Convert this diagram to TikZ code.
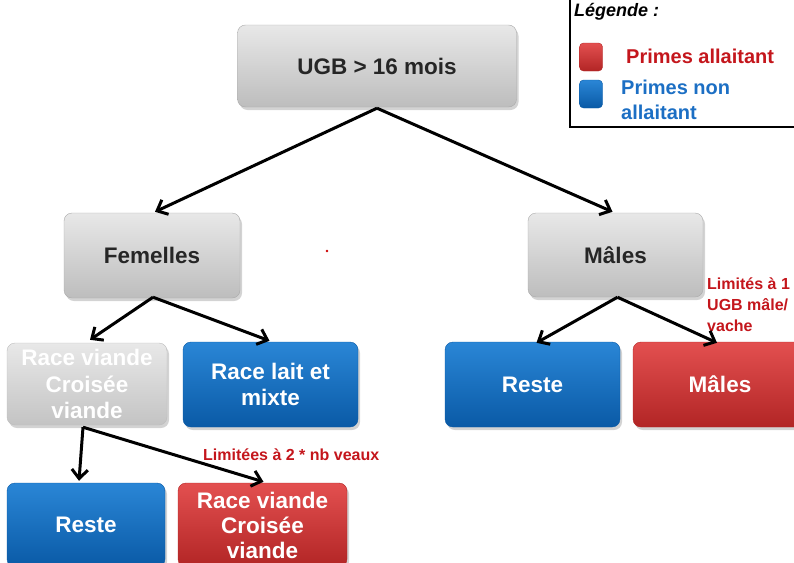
\documentclass[tikz,border=0pt]{standalone}
\usepackage{fontspec}
\setmainfont{Liberation Sans}
\usetikzlibrary{arrows.meta,shadows}
\definecolor{gtop}{HTML}{E8E8E8}
\definecolor{gbot}{HTML}{BDBDBD}
\definecolor{btop}{HTML}{2A86D6}
\definecolor{bbot}{HTML}{0A5AA6}
\definecolor{rtop}{HTML}{E35050}
\definecolor{rbot}{HTML}{B22525}
\definecolor{lblred}{HTML}{C4161C}
\definecolor{lblblue}{HTML}{1C6FC4}
\tikzset{
  box/.style={rounded corners=8pt, align=center, inner sep=2pt,
    font=\bfseries\fontsize{22.5}{26.5}\selectfont,
    drop shadow={shadow xshift=2pt, shadow yshift=-3pt, opacity=0.35}},
  graybox/.style={box, top color=gtop, bottom color=gbot, draw=gbot!90!black, text=black!85},
  lightbox/.style={box, top color=gtop, bottom color=gbot!90!white, draw=gbot, text=white},
  bluebox/.style={box, top color=btop, bottom color=bbot, draw=bbot, text=white},
  redbox/.style={box, top color=rtop, bottom color=rbot, draw=rbot, text=white},
  arr/.style={line width=3pt, black, -{Straight Barb[length=9pt,width=16pt,line width=3pt]}},
  note/.style={text=lblred, font=\bfseries\fontsize{16}{21}\selectfont, align=left, inner sep=0pt},
  legsq/.style={rounded corners=4pt, minimum width=23pt, minimum height=28pt, inner sep=0pt}
}
\begin{document}
\begin{tikzpicture}[x=1pt,y=-1pt]
\useasboundingbox (0,0) rectangle (794,562);
% legend
\draw[line width=2pt] (570,-10) rectangle (810,127);
\node[anchor=west, inner sep=0pt, font=\bfseries\itshape\fontsize{18}{20}\selectfont] (legtitle) at (574,12) {Légende :};
\node[legsq, top color=rtop, bottom color=rbot, draw=rbot] (legred) at (591,57) {};
\node[legsq, top color=btop, bottom color=bbot, draw=bbot] (legblue) at (591,94) {};
\node[anchor=west, inner sep=0pt, text=lblred, font=\bfseries\fontsize{20}{24}\selectfont] (legredtxt) at (626,56) {Primes allaitant};
\node[anchor=west, inner sep=0pt, text=lblblue, font=\bfseries\fontsize{20}{25}\selectfont, align=left] (legbluetxt) at (621,100) {Primes non\\allaitant};
% nodes
\node[graybox, minimum width=279pt, minimum height=82pt] (ugb) at (377,66) {UGB > 16 mois};
\node[graybox, minimum width=176pt, minimum height=85pt] (fem) at (152,255.5) {Femelles};
\node[graybox, minimum width=175pt, minimum height=84pt] (mal) at (615.5,255) {Mâles};
\node[lightbox, minimum width=160pt, minimum height=82pt] (rv) at (87,384) {Race viande\\Croisée\\viande};
\node[bluebox, minimum width=175pt, minimum height=85pt] (rl) at (270.5,384.5) {Race lait et\\mixte};
\node[bluebox, minimum width=175pt, minimum height=85pt] (rester) at (532.5,384.5) {Reste};
\node[redbox, minimum width=174pt, minimum height=85pt] (malr) at (720,384.5) {Mâles};
\node[bluebox, minimum width=158pt, minimum height=84pt] (resteb) at (86,525) {Reste};
\node[redbox, minimum width=169pt, minimum height=84pt, font=\bfseries\fontsize{22.5}{25}\selectfont] (rvr) at (262.5,525) {Race viande\\Croisée\\viande};
% notes
\node[note, anchor=west] (n1) at (203,455) {Limitées à 2 * nb veaux};
\node[note, anchor=north west] (n2) at (707,278) {Limités à 1\\UGB mâle/\\vache};
\fill[red!80!black] (327,251) circle (1.3pt);
% arrows
\draw[arr] ([yshift=-1pt]ugb.south) -- ([xshift=3pt,yshift=1pt]fem.north);
\draw[arr] ([yshift=-1pt]ugb.south) -- ([xshift=-3pt,yshift=1pt]mal.north);
\draw[arr] ([xshift=1pt,yshift=1pt]fem.south) -- ([xshift=3pt,yshift=3pt]rv.north);
\draw[arr] ([xshift=1pt,yshift=1pt]fem.south) -- ([xshift=-1pt,yshift=1pt]rl.north);
\draw[arr] ([xshift=-4pt,yshift=-2pt]rv.south) -- ([xshift=-7pt,yshift=2pt]resteb.north);
\draw[arr] ([xshift=-4pt,yshift=-2pt]rv.south) -- ([xshift=1pt,yshift=1pt]rvr.north);
\draw[arr] ([xshift=2pt]mal.south) -- ([xshift=4pt,yshift=-1pt]rester.north);
\draw[arr] ([xshift=2pt]mal.south) -- ([xshift=-3pt,yshift=-1pt]malr.north);
\end{tikzpicture}
\end{document}
